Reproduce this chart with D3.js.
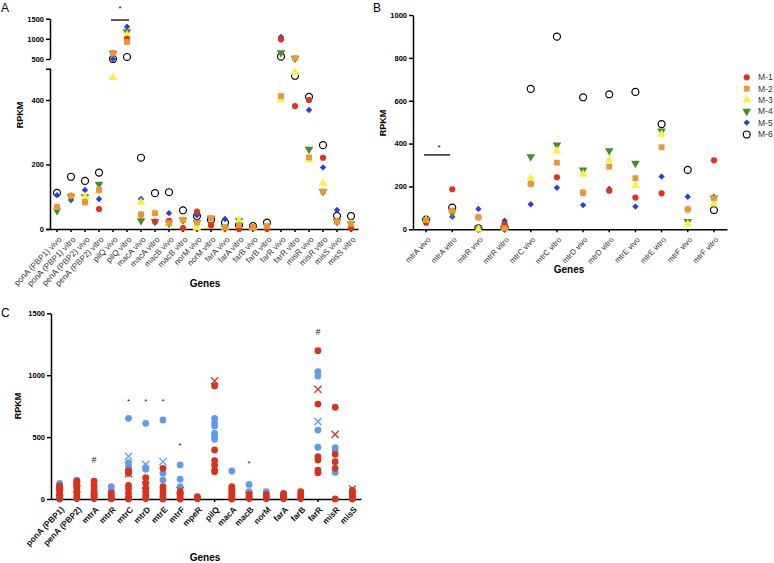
<!DOCTYPE html>
<html>
<head>
<meta charset="utf-8">
<script src="https://cdn.jsdelivr.net/npm/d3@7"></script>
<style>
  body { margin: 0; background: #fff; }
  svg { font-family: "Liberation Sans", Arial, sans-serif; }
</style>
</head>
<body>
<svg id="chart" width="774" height="563"></svg>
<script>
// ---- data -------------------------------------------------------------
const seriesNames = ["M-1", "M-2", "M-3", "M-4", "M-5", "M-6"];

const aCategories = [
  "ponA (PBP1) vivo", "ponA (PBP1) vitro", "penA (PBP2) vivo", "penA (PBP2) vitro",
  "pilQ vivo", "pilQ vitro", "macA vivo", "macA vitro", "macB vivo", "macB vitro",
  "norM vivo", "norM vitro", "farA vivo", "farA vitro", "farB vivo", "farB vitro",
  "farR vivo", "farR vitro", "misR vivo", "misR vitro", "misS vivo", "misS vitro"
];
// one value per category, per sample
const aM1 = [68, 103, 83, 62, 641, 1003, 45, 23, 25, 3, 54, 12, 4, 0, 5, 1, 988, 381, 400, 221, 23, 2];
const aM2 = [68, 103, 83, 121, 641, 922, 45, 49, 18, 28, 20, 33, 4, 12, 5, 9, 412, 517, 222, 116, 23, 16];
const aM3 = [68, 103, 100, 118, 470, 1095, 83, 49, 18, 28, 4, 12, 4, 26, 5, 9, 402, 485, 215, 142, 23, 16];
const aM4 = [57, 100, 100, 139, 641, 1177, 26, 23, 18, 28, 20, 33, 4, 26, 5, 9, 656, 517, 247, 116, 23, 16];
const aM5 = [105, 90, 121, 93, 500, 1301, 93, 49, 49, 28, 43, 33, 31, 12, 5, 9, 1046, 517, 369, 191, 59, 16];
const aM6 = [112, 162, 149, 175, 500, 550, 221, 111, 114, 58, 40, 28, 20, 12, 9, 20, 557, 475, 410, 260, 41, 40];
const aLowTicks = [0, 200, 400];
const aHighTicks = [500, 1000, 1500];

const bCategories = [
  "mtrA vivo", "mtrA vitro", "mtrR vivo", "mtrR vitro", "mtrC vivo", "mtrC vitro",
  "mtrD vivo", "mtrD vitro", "mtrE vivo", "mtrE vitro", "mtrF vivo", "mtrF vitro"
];
const bM1 = [31, 187, 56, 25, 211, 243, 171, 180, 148, 168, 93, 322];
const bM2 = [43, 87, 56, 5, 211, 311, 171, 292, 239, 383, 93, 145];
const bM3 = [43, 87, 0, 5, 238, 367, 257, 323, 204, 443, 25, 118];
const bM4 = [43, 75, 5, 5, 339, 393, 277, 367, 308, 459, 36, 145];
const bM5 = [43, 59, 95, 40, 117, 194, 113, 188, 106, 246, 152, 152];
const bM6 = [45, 101, 5, 8, 655, 899, 616, 630, 641, 491, 277, 90];
const bTicks = [0, 200, 400, 600, 800, 1000];

const cGenes = [
  "ponA (PBP1)", "penA (PBP2)", "mtrA", "mtrR", "mtrC", "mtrD", "mtrE", "mtrF", "mpeR",
  "pilQ", "macA", "macB", "norM", "farA", "farB", "farR", "misR", "misS"
];
const cBlue = [
  [127, 112, 90], [153, 140, 125], [45, 30], [100, 70], [652, 293, 262, 235],
  [611, 253, 240], [638, 207, 153], [275, 160, 100], [],
  [652, 615, 590, 530, 505, 482], [226], [118, 59], [59], [], [],
  [1028, 993, 557, 418], [415, 390, 215], []
];
const cRed = [
  [105, 90, 70, 50, 30, 10, 0], [145, 125, 105, 80, 55, 25, 5], [145, 110, 90, 60, 40, 20, 5],
  [50, 32, 15, 2], [226, 207, 110, 83, 46, 15, 0], [172, 127, 86, 60, 30, 5],
  [248, 100, 72, 45, 20, 0], [60, 45, 20, 0], [19, 10, 3],
  [913, 396, 310, 275, 234, 221], [100, 85, 70, 50, 30, 15, 0], [35, 19, 5],
  [38, 20, 5], [46, 30, 15, 3], [59, 40, 20, 5],
  [1198, 767, 342, 315, 234, 213], [741, 361, 301, 248, 0], [70, 50, 30, 15, 0]
];
const cRedMean = [55, 80, null, null, 205, 113, null, 67, null, 955, null, 30, null, null, null, 886, 522, 81];
const cBlueMean = [null, null, null, null, 345, 280, 301, null, null, null, null, null, null, null, null, 625, null, null];
const cTicks = [0, 500, 1000, 1500];
// significance marks: [gene, symbol, value at baseline]
const cMarks = [["mtrA", "#", 290], ["mtrC", "*", 768], ["mtrD", "*", 768], ["mtrE", "*", 768],
  ["mtrF", "*", 412], ["macB", "*", 266], ["farR", "#", 1321]];

// ---- styles -----------------------------------------------------------
const colors = ["#e2311d", "#f0952f", "#f9f23a", "#4a8b2b", "#2a3ce6", "none"];
const symbolType = [d3.symbolCircle, d3.symbolSquare, d3.symbolTriangle, d3.symbolTriangle, d3.symbolSquare, d3.symbolCircle];
const symbolSize = [30, 34, 32, 32, 20, 38];
const symbolRotate = [0, 0, 0, 180, 45, 0];
const drawOrder = [5, 4, 3, 2, 0, 1];
const cRedColor = "#d8321b", cBlueColor = "#5c9cee";
const fmt = d3.format("d");

const svg = d3.select("#chart");

function styleAxis(g) {
  g.select(".domain").attr("stroke-width", 1.5);
  g.selectAll(".tick line").attr("stroke-width", 1.5);
}
function yAxis(g, scale, ticks, outer = 0) {
  g.call(d3.axisLeft(scale).tickValues(ticks).tickFormat(fmt).tickSize(4).tickSizeOuter(outer).tickPadding(2));
  styleAxis(g);
  g.selectAll("text").attr("font-size", 7.5).attr("font-weight", "bold");
}
function xAxis(g, scale, fontSize, bold) {
  g.call(d3.axisBottom(scale).tickSize(3).tickSizeOuter(0));
  styleAxis(g);
  g.selectAll("text")
    .attr("x", 0).attr("y", 0).attr("dy", "0.35em")
    .attr("transform", "translate(3,9) rotate(-46)")
    .attr("text-anchor", "end")
    .attr("font-size", fontSize)
    .attr("font-weight", bold ? "bold" : "normal")
    .attr("fill", bold ? "#111" : "#333");
}
function marker(g, s, x, y) {
  const p = g.append("path")
    .attr("d", d3.symbol(symbolType[s], symbolSize[s])())
    .attr("transform", `translate(${x},${y}) rotate(${symbolRotate[s]})`);
  if (s === 5) p.attr("fill", "none").attr("stroke", "#000").attr("stroke-width", 1.2);
  else p.attr("fill", colors[s]);
}
function label(text, x, y, size, opts = {}) {
  const t = svg.append("text").attr("x", x).attr("y", y).attr("font-size", size).text(text);
  if (opts.bold) t.attr("font-weight", "bold");
  if (opts.anchor) t.attr("text-anchor", opts.anchor);
  if (opts.rotate) t.attr("transform", `rotate(-90,${x},${y})`);
  return t;
}

// ---- panel A ----------------------------------------------------------
const aX = d3.scaleBand().domain(aCategories).range([50, 358]).padding(0);
const aLow = d3.scaleLinear().domain([0, 497]).range([229, 68.7]);
const aHigh = d3.scaleLinear().domain([500, 1500]).range([59, 18.7]);
const aY = v => (v >= 500 ? aHigh(v) : aLow(v));
const aSeries = [aM1, aM2, aM3, aM4, aM5, aM6];

const gA = svg.append("g");
yAxis(gA.append("g").attr("transform", "translate(50,0)"), aLow, aLowTicks, 4);
yAxis(gA.append("g").attr("transform", "translate(50,0)"), aHigh, aHighTicks);
xAxis(gA.append("g").attr("transform", "translate(0,229)"), aX, 8.2, false);

const aPts = gA.append("g");
drawOrder.forEach(s => {
  aCategories.forEach((c, i) => marker(aPts, s, aX(c) + aX.bandwidth() / 2, aY(aSeries[s][i])));
});
// significance
gA.append("line")
  .attr("x1", aX("pilQ vivo") + 5).attr("x2", aX("pilQ vitro") + aX.bandwidth() - 5)
  .attr("y1", aHigh(1467)).attr("y2", aHigh(1467))
  .attr("stroke", "#000").attr("stroke-width", 1.3);
gA.append("text")
  .attr("x", aX("pilQ vitro")).attr("y", aHigh(1690))
  .attr("text-anchor", "middle").attr("font-size", 8).text("*");

label("A", 1, 12, 12);
label("RPKM", 23, 115, 9, { bold: true, anchor: "middle", rotate: true });
label("Genes", 205, 287, 10, { bold: true, anchor: "middle" });

// ---- panel B ----------------------------------------------------------
const bX = d3.scaleBand().domain(bCategories).range([413, 727]).padding(0);
const bY = d3.scaleLinear().domain([0, 1000]).range([229.3, 15]);
const bSeries = [bM1, bM2, bM3, bM4, bM5, bM6];

const gB = svg.append("g");
yAxis(gB.append("g").attr("transform", "translate(413,0)"), bY, bTicks);
xAxis(gB.append("g").attr("transform", "translate(0,229.3)"), bX, 7.8, false);

const bPts = gB.append("g");
drawOrder.forEach(s => {
  bCategories.forEach((c, i) => marker(bPts, s, bX(c) + bX.bandwidth() / 2, bY(bSeries[s][i])));
});
gB.append("line")
  .attr("x1", bX("mtrA vivo") + 11).attr("x2", bX("mtrA vitro") + 11)
  .attr("y1", bY(347)).attr("y2", bY(347))
  .attr("stroke", "#000").attr("stroke-width", 1.3);
gB.append("text")
  .attr("x", bX("mtrA vivo") + bX.bandwidth()).attr("y", bY(370))
  .attr("text-anchor", "middle").attr("font-size", 8).text("*");

// legend
const leg = gB.append("g");
const legY = [77.3, 88.7, 100, 111.3, 122.6, 134.5];
seriesNames.forEach((n, s) => {
  marker(leg, s, 746.7, legY[s]);
  leg.append("text").attr("x", 758).attr("y", legY[s]).attr("dy", "0.35em")
    .attr("font-size", 8.5).attr("fill", "#333").text(n);
});

label("B", 373, 12, 12);
label("RPKM", 386, 123, 9, { bold: true, anchor: "middle", rotate: true });
label("Genes", 569, 273, 10, { bold: true, anchor: "middle" });

// ---- panel C ----------------------------------------------------------
const cX = d3.scaleBand().domain(cGenes).range([51, 361]).padding(0);
const cY = d3.scaleLinear().domain([0, 1500]).range([499, 313.3]);
const cx = g => cX(g) + cX.bandwidth() / 2;

const gC = svg.append("g");
yAxis(gC.append("g").attr("transform", "translate(51,0)"), cY, cTicks);
xAxis(gC.append("g").attr("transform", "translate(0,499)"), cX, 8.4, true);

const cPts = gC.append("g");
function cross(g, x, y, color) {
  g.append("path")
    .attr("d", `M${x - 3.6},${y - 3.6}L${x + 3.6},${y + 3.6}M${x - 3.6},${y + 3.6}L${x + 3.6},${y - 3.6}`)
    .attr("stroke", color).attr("stroke-width", 1.3).attr("fill", "none");
}
cGenes.forEach((g, i) => {
  cBlue[i].forEach(v => cPts.append("circle").attr("cx", cx(g)).attr("cy", cY(v)).attr("r", 3.4).attr("fill", cBlueColor));
  if (cBlueMean[i] != null) cross(cPts, cx(g), cY(cBlueMean[i]), cBlueColor);
});
cGenes.forEach((g, i) => {
  cRed[i].forEach(v => cPts.append("circle").attr("cx", cx(g)).attr("cy", cY(v)).attr("r", 3.4).attr("fill", cRedColor));
  if (cRedMean[i] != null) cross(cPts, cx(g), cY(cRedMean[i]), cRedColor);
});
cMarks.forEach(([g, sym, v]) => {
  gC.append("text").attr("x", cx(g)).attr("y", cY(v))
    .attr("text-anchor", "middle").attr("font-size", sym === "#" ? 9 : 8).attr("fill", "#222").text(sym);
});

label("C", 1, 317, 12);
label("RPKM", 21, 406, 9, { bold: true, anchor: "middle", rotate: true });
label("Genes", 205, 561, 10, { bold: true, anchor: "middle" });
</script>
</body>
</html>
